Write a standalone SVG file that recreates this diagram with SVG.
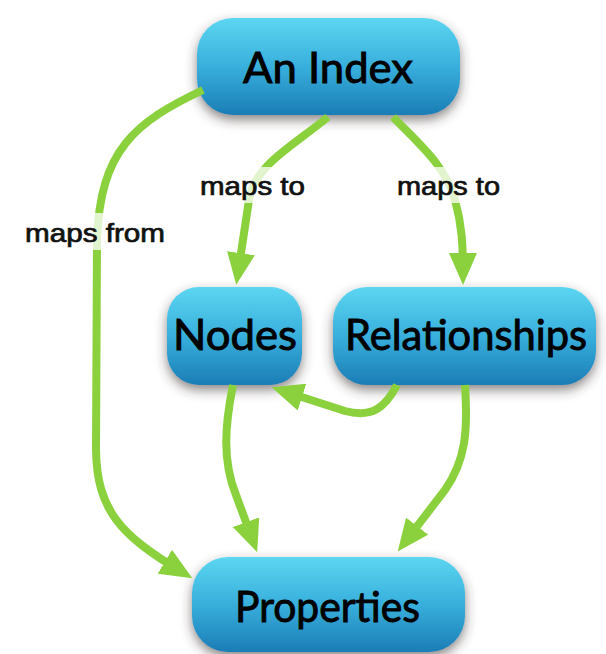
<svg xmlns="http://www.w3.org/2000/svg" width="606" height="654" viewBox="0 0 606 654">
<defs>
<linearGradient id="blue" x1="0" y1="0" x2="0" y2="1">
<stop offset="0" stop-color="#5cd6f1"/>
<stop offset="0.5" stop-color="#38afdc"/>
<stop offset="1" stop-color="#1b7db6"/>
</linearGradient>
<filter id="shadow" x="-20%" y="-30%" width="140%" height="170%">
<feDropShadow dx="0" dy="5" stdDeviation="6" flood-color="#3a3030" flood-opacity="0.6"/>
</filter>
<marker id="arrow" markerUnits="userSpaceOnUse" markerWidth="32" markerHeight="28" viewBox="0 0 32 28" refX="20" refY="14" orient="auto">
<path d="M0,0 L32,14 L0,28 z" fill="#8ad13d"/>
</marker>
<style>
.node rect{fill:url(#blue);filter:url(#shadow);}
.node text{font-family:Lato,"Open Sans","DejaVu Sans",sans-serif;font-size:42px;fill:#000;stroke:#000;stroke-width:0.9;text-anchor:middle;}
.conn path{fill:none;stroke:#8ad13d;stroke-width:8;marker-end:url(#arrow);}
.lbl rect{fill:#fff;fill-opacity:0.75;}
.lbl text{font-family:"Liberation Sans",Arial,sans-serif;font-size:25px;fill:#111;stroke:#111;stroke-width:0.7;}
</style>
</defs>
<rect width="606" height="654" fill="#fff"/>
<g id="node-index" class="node">
<rect x="197" y="18" width="263" height="97" rx="36"/>
<text x="328" y="83" textLength="170" lengthAdjust="spacingAndGlyphs">An Index</text>
</g>
<g id="node-nodes" class="node">
<rect x="167" y="287" width="135" height="98" rx="32"/>
<text x="235" y="350" textLength="124" lengthAdjust="spacingAndGlyphs">Nodes</text>
</g>
<g id="node-relationships" class="node">
<rect x="333" y="287" width="263" height="98" rx="34"/>
<text x="466" y="350" textLength="242" lengthAdjust="spacingAndGlyphs">Relationships</text>
</g>
<g id="node-properties" class="node">
<rect x="192" y="557" width="273" height="95" rx="36"/>
<text x="327.5" y="622" textLength="185" lengthAdjust="spacingAndGlyphs">Properties</text>
</g>
<g id="connectors" class="conn">
<path d="M328 117 C290 148 255 165 249 200 L238 273"/>
<path d="M393 117 C420 145 445 165 455 200 C462 225 463 245 463 273"/>
<path d="M203 90 C135 122 100 150 97 240 L96 450 C97 510 120 535 182 572"/>
<path d="M233 385 C225 425 222 460 236 495 L253 541"/>
<path d="M465 385 C468 430 466 460 445 490 L405 542"/>
<path d="M397 385 C385 408 372 418 345 411 L283 391"/>
</g>
<g id="labels" class="lbl">
<rect x="198" y="167" width="110" height="36"/>
<text x="200" y="195" textLength="105" lengthAdjust="spacingAndGlyphs">maps to</text>
<rect x="395" y="167" width="108" height="36"/>
<text x="397" y="195" textLength="103" lengthAdjust="spacingAndGlyphs">maps to</text>
<rect x="23" y="213" width="145" height="37"/>
<text x="25" y="242" textLength="140" lengthAdjust="spacingAndGlyphs">maps from</text>
</g>
</svg>
